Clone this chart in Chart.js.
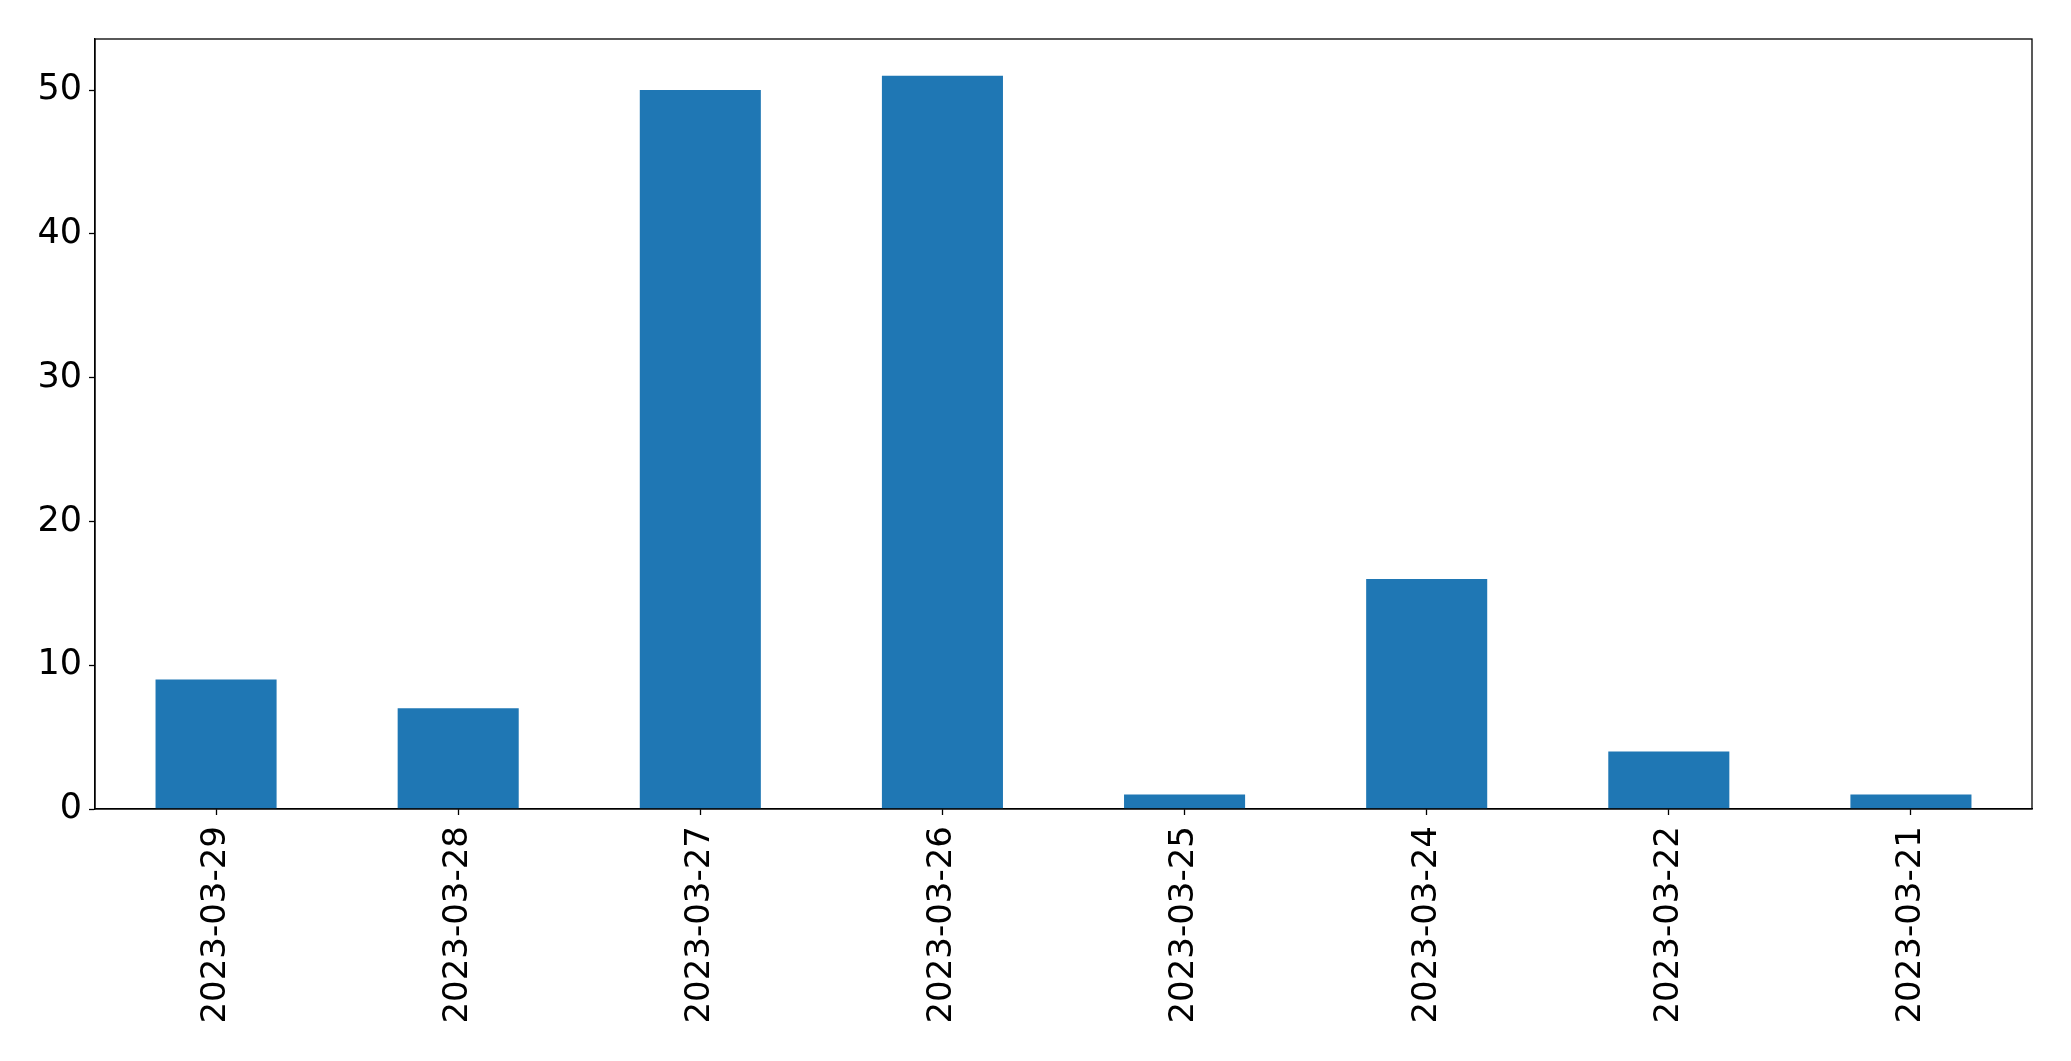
<!DOCTYPE html>
<html>
<head>
<meta charset="utf-8">
<script src="https://cdn.jsdelivr.net/npm/chart.js@4.4.0/dist/chart.umd.min.js"></script>
<style>
  html, body { margin: 0; padding: 0; background: #fff; }
  canvas { display: block; }
</style>
</head>
<body>
<canvas id="chart" width="2071" height="1061"></canvas>
<script>
const dates = ['2023-03-29', '2023-03-28', '2023-03-27', '2023-03-26', '2023-03-25', '2023-03-24', '2023-03-22', '2023-03-21'];
const counts = [9, 7, 50, 51, 1, 16, 4, 1];
const yTicks = [0, 10, 20, 30, 40, 50];

// draws the black box around the plot area like matplotlib
const frame = {
  id: 'frame',
  afterDraw(chart) {
    const { ctx, chartArea: a } = chart;
    ctx.save();
    ctx.strokeStyle = '#000';
    ctx.lineWidth = 1.3;
    ctx.strokeRect(a.left, a.top, a.right - a.left, a.bottom - a.top);
    ctx.restore();
  }
};

new Chart(document.getElementById('chart').getContext('2d'), {
  type: 'bar',
  data: {
    labels: dates,
    datasets: [{
      data: counts,
      backgroundColor: '#1f77b4',
      borderWidth: 0,
      categoryPercentage: 0.5,
      barPercentage: 1.0
    }]
  },
  options: {
    responsive: false,
    animation: false,
    layout: { padding: { top: 39, right: 39, left: 0, bottom: 0 } },
    plugins: { legend: { display: false }, tooltip: { enabled: false } },
    scales: {
      x: {
        offset: true,
        grid: { display: true, offset: false, drawOnChartArea: false, tickLength: 6, color: '#000', tickWidth: 1.3 },
        border: { display: true, color: '#000', width: 1.3 },
        ticks: { color: '#000', font: { family: 'DejaVu Sans', size: 34 }, minRotation: 90, maxRotation: 90, padding: 11, autoSkip: false },
        afterFit(scale) { scale.height = 252; }
      },
      y: {
        min: 0,
        max: 53.55,
        grid: { display: true, drawOnChartArea: false, tickLength: 6, color: '#000', tickWidth: 1.3 },
        border: { display: true, color: '#000', width: 1.3 },
        ticks: { color: '#000', font: { family: 'DejaVu Sans', size: 35 }, padding: 7 },
        afterBuildTicks(scale) { scale.ticks = yTicks.map(v => ({ value: v })); },
        afterFit(scale) { scale.width = 95; }
      }
    }
  },
  plugins: [frame]
});
</script>
</body>
</html>
